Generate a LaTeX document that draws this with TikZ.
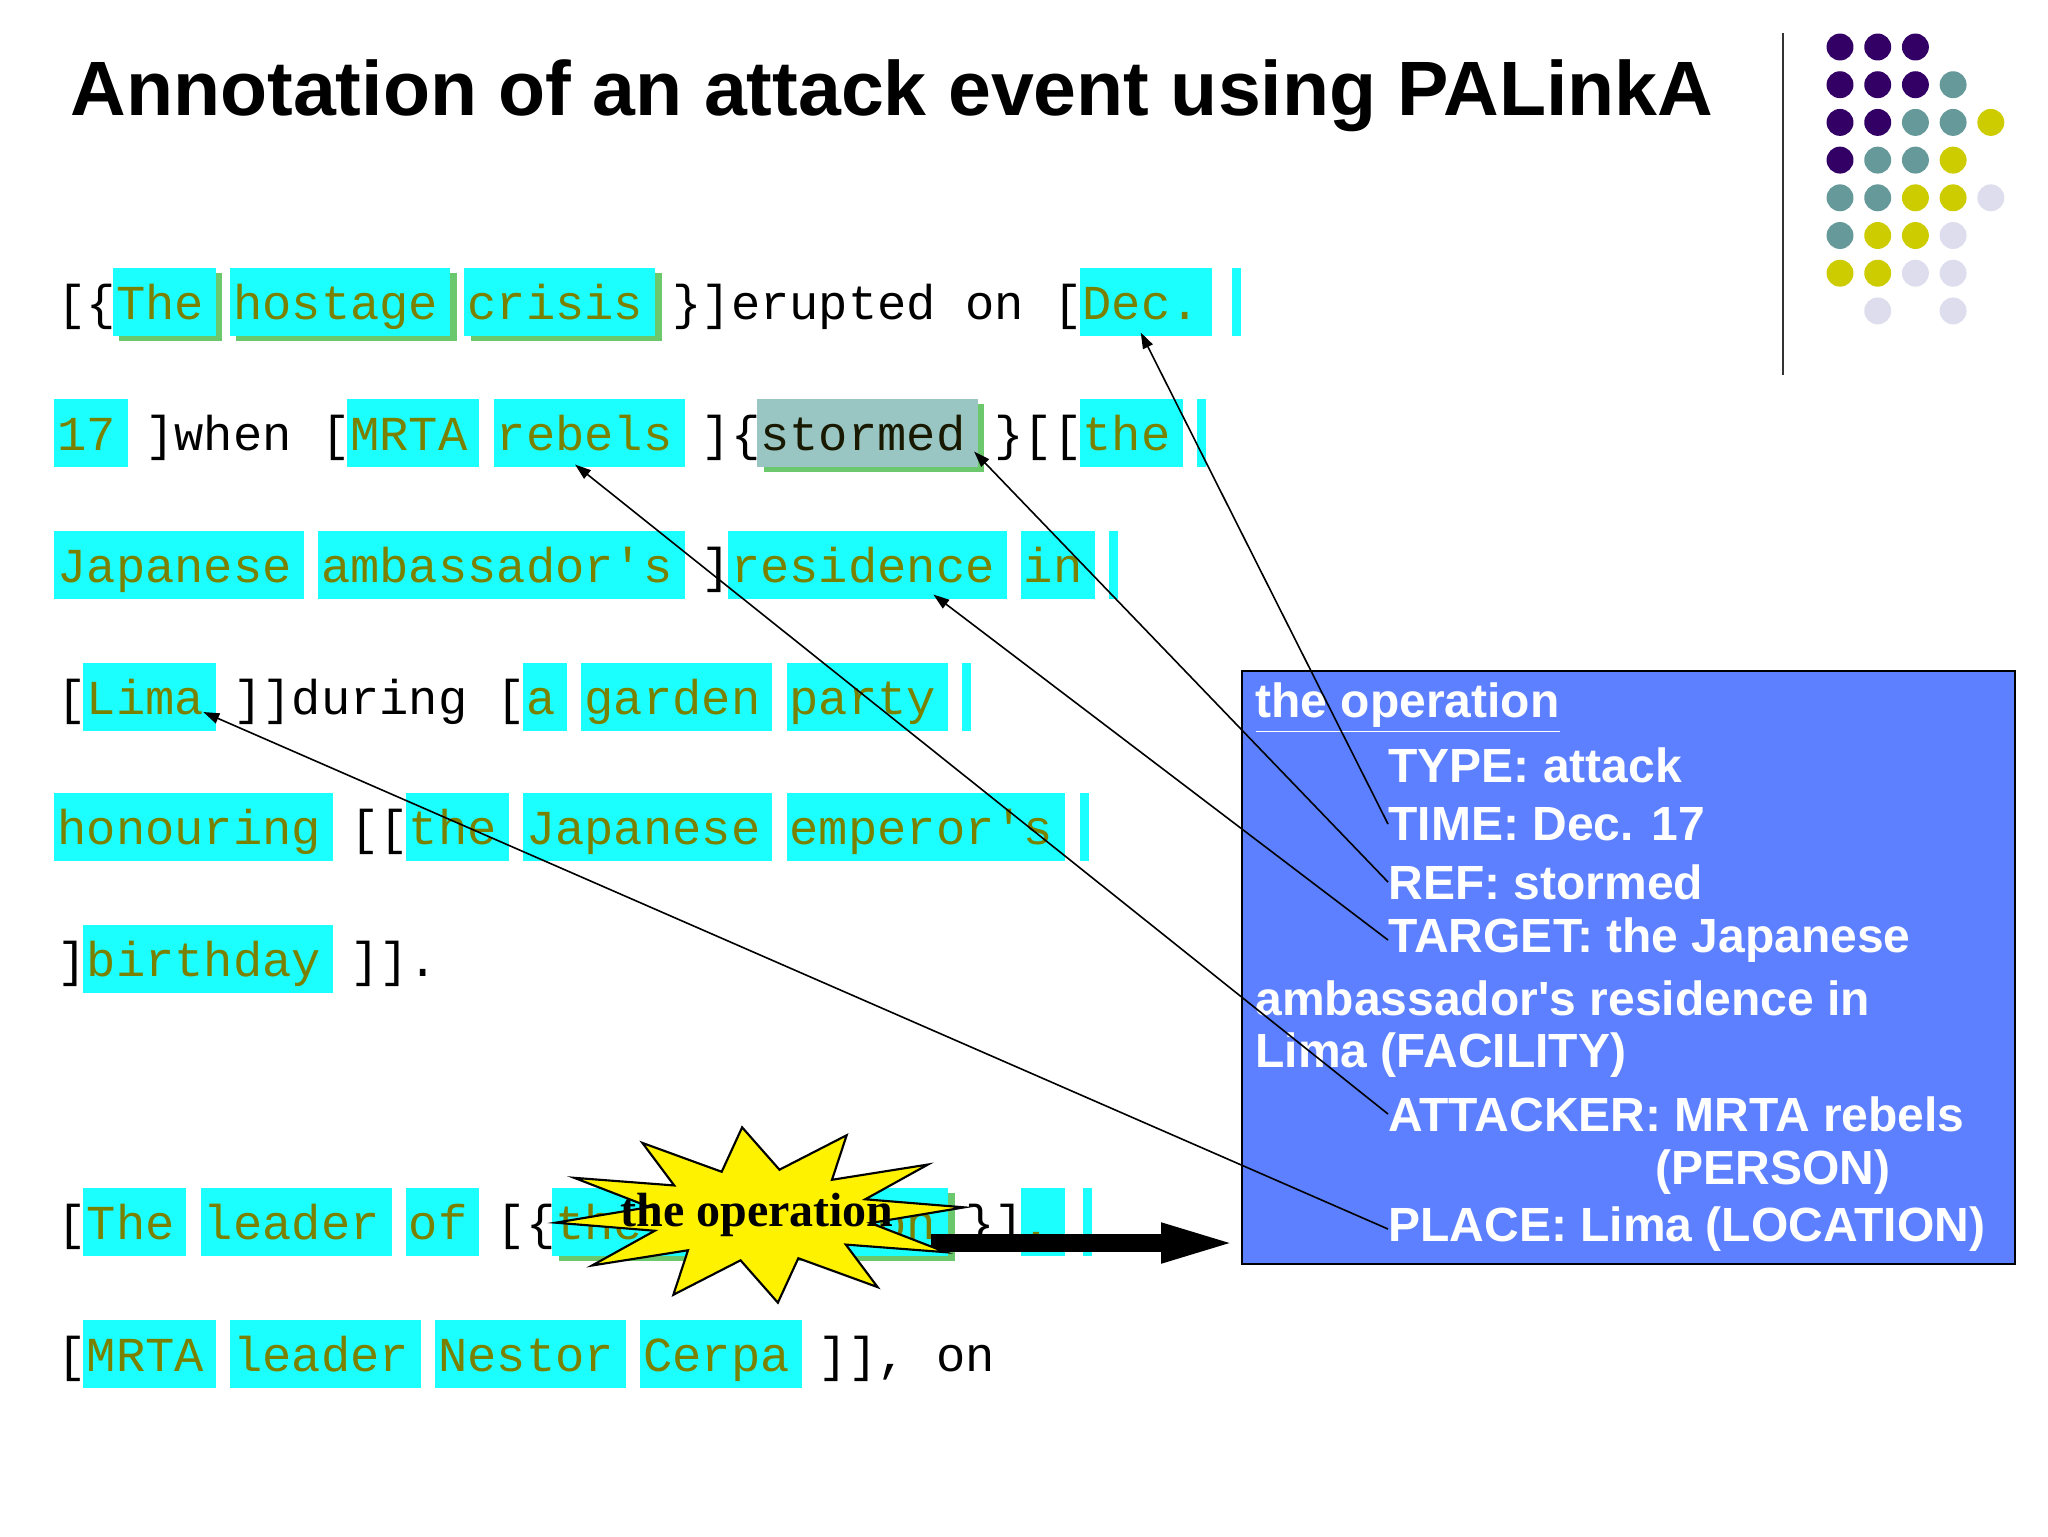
\documentclass[tikz,border=0pt]{standalone}
\usepackage{fontspec}
\usetikzlibrary{arrows.meta,shadows,calc}
\newfontfamily\monof{Liberation Mono}
\newfontfamily\sansf{Liberation Sans}
\newfontfamily\seriff{Liberation Serif}
\definecolor{cyanhl}{HTML}{1CFFFF}
\definecolor{stormc}{HTML}{99C6C2}
\definecolor{olivetxt}{HTML}{7A8000}
\definecolor{shgreen}{HTML}{6CC86C}
\definecolor{infoblue}{HTML}{5C80FF}
\definecolor{dP}{HTML}{330066}
\definecolor{dT}{HTML}{669999}
\definecolor{dY}{HTML}{CCCC00}
\definecolor{dL}{HTML}{DDDDEE}
\newcommand\ol[1]{\textcolor{olivetxt}{#1}}
\tikzset{
  hl/.style={fill=cyanhl, inner sep=0pt, minimum height=25.5pt},
  hls/.style={hl, drop shadow={shadow xshift=2.5pt, shadow yshift=-2pt, fill=shgreen, opacity=1}},
  hlt/.style={hls, fill=stormc},
  mono/.style={font=\monof\fontsize{18.3}{20}\selectfont, anchor=base west, inner sep=0pt},
  info/.style={font=\sansf\bfseries\fontsize{18}{20}\selectfont, text=white, anchor=west, inner sep=0pt},
  ptr/.style={-{Triangle[length=6pt,width=4pt]}, line width=0.6pt},
  dot/.style={circle, inner sep=0pt, minimum size=10.1pt},
}
\newcommand\hb[5][hl]{\node[#1, minimum width={(#4+0.52)*10.9875pt}, anchor=west] (#2) at ({57+29.3*(#3-0.12)},{#5-2}) {};}
\newcommand\hlbar[2]{\fill[cyanhl] ({57+29.3*#1},{#2-36}) rectangle ++(9,68);}
\begin{document}
\begin{tikzpicture}[x=0.375pt,y=-0.375pt]
\useasboundingbox[fill=white] (0,0) rectangle (2048,1536);
% title
\node[font=\sansf\bfseries\fontsize{28.9}{32}\selectfont, anchor=west, inner sep=0pt] (title) at (70,96) {Annotation of an attack event using PALinkA};
% separator and dots
\draw[line width=1.1pt, black!80] (1783,33) coordinate (sepA) -- (1783,375) coordinate (sepB);
\foreach \r/\row in {0/{P,P,P,N,N},1/{P,P,P,T,N},2/{P,P,T,T,Y},3/{P,T,T,Y,N},4/{T,T,Y,Y,L},5/{T,Y,Y,L,N},6/{Y,Y,L,L,N},7/{N,L,N,L,N}}{
  \foreach \c [count=\i from 0] in \row {
    \if N\c\else \node[dot, fill=d\c] (dot-\r-\i) at ({1840+37.7*\i},{47+37.7*\r}) {};\fi
  }
}
% highlight boxes
\hb[hls]{t1}{2}{3}{304}\hb[hls]{hostage}{6}{7}{304}\hb[hls]{crisis}{14}{6}{304}\hb{dec}{35}{4}{304}\hlbar{40.1}{304}
\hb{n17}{0}{2}{435}\hb{mrta1}{10}{4}{435}\hb{rebels}{15}{6}{435}\hb[hlt]{stormed}{24}{7}{435}\hb{the1}{35}{3}{435}\hlbar{38.9}{435}
\hb{jap1}{0}{8}{567}\hb{amb}{9}{12}{567}\hb{residence}{23}{9}{567}\hb{in}{33}{2}{567}\hlbar{35.9}{567}
\hb{lima}{1}{4}{699}\hb{a}{16}{1}{699}\hb{garden}{18}{6}{699}\hb{party}{25}{5}{699}\hlbar{30.9}{699}
\hb{honouring}{0}{9}{829}\hb{the2}{12}{3}{829}\hb{jap2}{16}{8}{829}\hb{emperors}{25}{9}{829}\hlbar{34.9}{829}
\hb{birthday}{1}{8}{961}
\hb{the3}{1}{3}{1224}\hb{leader1}{5}{6}{1224}\hb{of}{12}{2}{1224}\hb[hls]{theop}{17}{13}{1224}\hb{comma}{33}{1}{1224}\hlbar{35}{1224}
\hb{mrta2}{1}{4}{1356}\hb{leader2}{6}{6}{1356}\hb{nestor}{13}{6}{1356}\hb{cerpa}{20}{5}{1356}
% text lines
\node[mono] (l1) at (57,319) {[\{\ol{The} \ol{hostage} \ol{crisis} \}]erupted on [\ol{Dec.}};
\node[mono] (l2) at (57,450) {\ol{17} ]when [\ol{MRTA} \ol{rebels} ]\{\textcolor{black!80!olivetxt}{stormed} \}[[\ol{the}};
\node[mono] (l3) at (57,582) {\ol{Japanese} \ol{ambassador's} ]\ol{residence} \ol{in}};
\node[mono] (l4) at (57,714) {[\ol{Lima} ]]during [\ol{a} \ol{garden} \ol{party}};
\node[mono] (l5) at (57,844) {\ol{honouring} [[\ol{the} \ol{Japanese} \ol{emperor's}};
\node[mono] (l6) at (57,976) {]\ol{birthday} ]].};
\node[mono] (l7) at (57,1239) {[\ol{The} \ol{leader} \ol{of} [\{\ol{the operation} \}]\ol{,}};
\node[mono] (l8) at (57,1371) {[\ol{MRTA} \ol{leader} \ol{Nestor} \ol{Cerpa} ]], on};
% info box
\node[fill=infoblue, draw=black, line width=0.6pt, minimum width={773*0.375pt}, minimum height={593*0.375pt}, anchor=north west, inner sep=0pt] (box) at (1241,670) {};
\node[info] (i1) at (1255,708) {\underline{the operation}};
\node[info] (i2) at (1388,765) {TYPE: attack};
\node[info] (i3) at (1388,824) {TIME: Dec. 17};
\node[info] (i4) at (1388,882) {REF: stormed};
\node[info] (i5) at (1388,940) {TARGET: the Japanese};
\node[info] (i6) at (1255,998) {ambassador's residence in};
\node[info] (i7) at (1255,1055) {Lima (FACILITY)};
\node[info] (i8) at (1388,1114) {ATTACKER: MRTA rebels};
\node[info] (i9) at (1655,1172) {(PERSON)};
\node[info] (i10) at (1388,1229) {PLACE: Lima (LOCATION)};
% pointers
\draw[ptr] (i3.west) -- ($(dec.south)+(-5,-4)$);
\draw[ptr] (i4.west) -- ($(stormed.south east)+(-4,-16)$);
\draw[ptr] (i5.west) -- ($(residence.south)+(66,-5)$);
\draw[ptr] (i8.west) -- ($(rebels.south)+(-14,-3)$);
\draw[ptr] (i10.west) -- ($(lima.east)+(-13,15)$);
% thick arrow
\coordinate (thk) at (931,1243);
\draw[line width=6.75pt, -{Triangle[length=30pt,width=13pt]}] (thk) -- (thk -| box.west);
% star
\draw[fill=yellow, line width=0.8pt]
  plot[samples at={0,...,23}, variable=\k] ({760+(mod(\k,2)==0 ? 205 : 112)*cos(15*\k+5)},{1215-(mod(\k,2)==0 ? 88 : 46)*sin(15*\k+5)}) -- cycle;
\node[font=\seriff\bfseries\fontsize{18}{20}\selectfont, inner sep=0pt] (star) at (757,1215) {the operation};
\end{tikzpicture}
\end{document}
